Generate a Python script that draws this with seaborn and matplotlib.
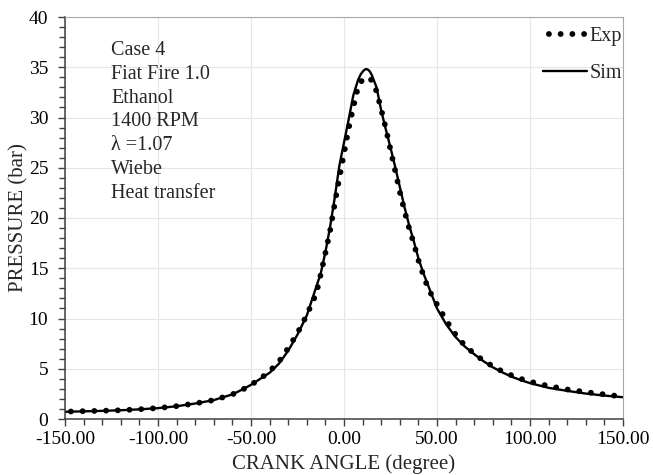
import matplotlib
matplotlib.use("Agg")
import matplotlib.pyplot as plt
from matplotlib.ticker import MultipleLocator, FormatStrFormatter
import seaborn as sns
import pandas as pd

# ---- data ----
exp_angle = [-150, -140, -130, -120, -110, -100, -90, -80, -70, -60, -55, -50, -45, -40, -35,
             -30, -25, -20, -17.5, -15, -12.5, -10, -7.5, -5, -2.5, 0, 2.5, 5, 7.5, 10, 12.5,
             15, 17.5, 20, 22.5, 25, 27.5, 30, 32.5, 35, 37.5, 40, 42.5, 45, 47.5, 50, 55,
             60, 65, 70, 75, 80, 85, 90, 95, 100, 110, 120, 130, 140, 150]
exp_pressure = [0.73, 0.78, 0.82, 0.87, 0.97, 1.09, 1.28, 1.55, 1.88, 2.45, 2.87, 3.4, 4.0, 4.75, 5.7,
                7.05, 8.55, 10.35, 11.4, 12.4, 14.4, 16.5, 18.7, 21.4, 24.0, 26.4, 28.9, 31.0, 33.0, 33.8, 34.0,
                33.7, 32.6, 30.8, 28.9, 26.8, 24.7, 22.6, 20.7, 19.0, 17.5, 15.8, 14.4, 13.1, 12.2, 11.4, 9.8,
                8.4, 7.3, 6.5, 5.8, 5.25, 4.75, 4.35, 4.0, 3.72, 3.28, 2.94, 2.68, 2.45, 2.22]

sim_angle = [-150, -140, -130, -120, -110, -100, -90, -80, -70, -60, -55, -50, -45, -40, -35,
             -30, -25, -20, -17.5, -15, -12.5, -10, -7.5, -5, -2.5, 0, 2.5, 5, 7.5, 9, 10, 11, 12,
             13, 14, 15, 17.5, 20, 22.5, 25, 27.5, 30, 32.5, 35, 37.5, 40, 42.5, 45, 47.5, 50, 55,
             60, 65, 70, 75, 80, 85, 90, 95, 100, 110, 120, 130, 140, 150]
sim_pressure = [0.72, 0.76, 0.81, 0.87, 0.96, 1.08, 1.27, 1.54, 1.88, 2.45, 2.9, 3.4, 4.0, 4.6, 5.5,
                6.8, 8.4, 10.3, 11.7, 13.1, 14.5, 16.6, 19.1, 22.0, 25.2, 27.5, 29.8, 32.2, 33.7, 34.3, 34.55,
                34.75, 34.82, 34.75, 34.55, 34.2, 33.0, 30.7, 28.8, 27.0, 25.1, 23.1, 21.1, 19.3, 17.7, 16.0,
                14.6, 13.4, 12.2, 11.0, 9.4,
                8.15, 7.2, 6.45, 5.75, 5.15, 4.65, 4.22, 3.87, 3.57, 3.1, 2.8, 2.53, 2.33, 2.17]

info_lines = ["Case 4", "Fiat Fire 1.0", "Ethanol", "1400 RPM", "\u03bb =1.07", "Wiebe", "Heat transfer"]
x_ticks = [-150, -100, -50, 0, 50, 100, 150]
y_ticks = [0, 5, 10, 15, 20, 25, 30, 35, 40]

exp_df = pd.DataFrame({"angle": exp_angle, "pressure": exp_pressure})
sim_df = pd.DataFrame({"angle": sim_angle, "pressure": sim_pressure})

# ---- style ----
sns.set_style("white")
plt.rcParams["font.family"] = ["Liberation Serif", "DejaVu Serif"]
plt.rcParams["axes.unicode_minus"] = False

fig = plt.figure(figsize=(6.53, 4.75), dpi=100)
ax = fig.add_axes([65 / 653, 1 - 419 / 475, 558 / 653, 402 / 475])

sns.lineplot(data=exp_df, x="angle", y="pressure", ax=ax, color="black", lw=4.2,
             linestyle=(1.0, (0.01, 2.0)), dash_capstyle="round", label="Exp",
             sort=False, estimator=None)
sns.lineplot(data=sim_df, x="angle", y="pressure", ax=ax, color="black", lw=1.7,
             label="Sim", sort=False, estimator=None)

ax.set_xlim(-150, 150)
ax.set_ylim(0, 40)
ax.set_xticks(x_ticks)
ax.set_yticks(y_ticks)
ax.xaxis.set_major_formatter(FormatStrFormatter("%.2f"))
ax.xaxis.set_minor_locator(MultipleLocator(10))
ax.yaxis.set_minor_locator(MultipleLocator(1))
ax.tick_params(axis="both", which="both", direction="out", color="#404040",
               labelsize=14, labelcolor="black")
ax.tick_params(axis="both", which="major", length=5, width=1)
ax.tick_params(axis="both", which="minor", length=4, width=1)
ax.tick_params(axis="x", which="both", bottom=True, top=False, pad=4)
ax.tick_params(axis="y", which="both", left=True, right=False, pad=7)

ax.grid(True, which="major", color="#e6e6e6", lw=0.8)
for s in ["left", "bottom"]:
    ax.spines[s].set_color("#404040")
    ax.spines[s].set_linewidth(1.1)
for s in ["top", "right"]:
    ax.spines[s].set_color("#a8a8a8")
    ax.spines[s].set_linewidth(0.8)

ax.set_xlabel("CRANK ANGLE (degree)", fontsize=15, labelpad=4)
ax.set_ylabel("PRESSURE (bar)", fontsize=15, labelpad=0.5)

for i, line in enumerate(info_lines):
    yc = 50.5 + i * 23.8
    ax.text((111 - 65) / 558, (419 - yc) / 402, line, transform=ax.transAxes,
            ha="left", va="center", fontsize=14.5)

leg = ax.legend(loc="upper right", bbox_to_anchor=(1.0, 0.977), frameon=False,
                fontsize=14.5, handlelength=2.2, handletextpad=0.12,
                labelspacing=0.85, borderaxespad=0.0, borderpad=0.05)

fig.savefig("out.png", dpi=100)
